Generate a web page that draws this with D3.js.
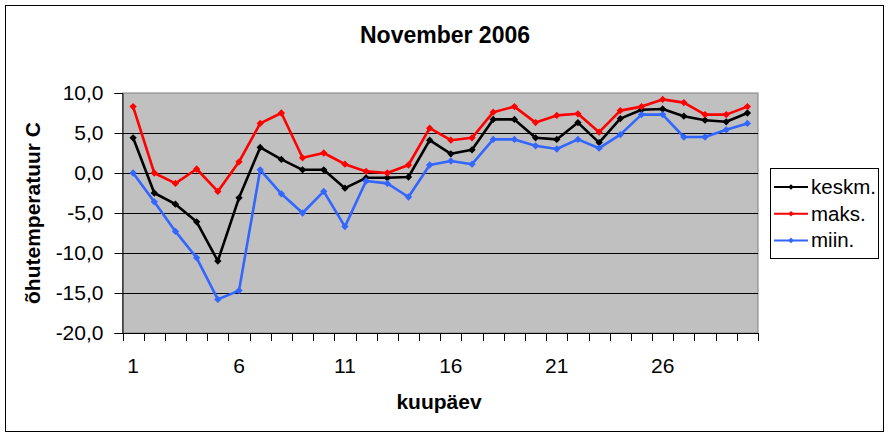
<!DOCTYPE html>
<html>
<head>
<meta charset="utf-8">
<script src="https://cdn.jsdelivr.net/npm/d3@7"></script>
<style>
	body { margin: 0; background: #fff; }
	svg { display: block; font-family: "Liberation Sans", Arial, sans-serif; }
</style>
</head>
<body>
<div id="chart"></div>
<script>
// päevad 1..30
const days = [ 1, 2, 3, 4, 5, 6, 7, 8, 9, 10, 11, 12, 13, 14, 15, 16, 17, 18, 19, 20, 21, 22, 23, 24, 25, 26, 27, 28, 29, 30 ];
const keskm = [ 4.4, -2.5, -3.9, -6.1, -11.0, -3.1, 3.2, 1.7, 0.4, 0.4, -1.9, -0.6, -0.6, -0.5, 4.1, 2.4, 2.9, 6.7, 6.7, 4.4, 4.2, 6.3, 3.8, 6.8, 7.9, 8.0, 7.1, 6.6, 6.4, 7.5 ];
const maks = [ 8.3, 0.0, -1.3, 0.5, -2.3, 1.4, 6.2, 7.5, 1.9, 2.5, 1.1, 0.2, 0.0, 1.0, 5.6, 4.1, 4.4, 7.6, 8.3, 6.3, 7.2, 7.4, 5.1, 7.8, 8.3, 9.2, 8.8, 7.3, 7.3, 8.3 ];
const miin = [ 0.0, -3.6, -7.3, -10.6, -15.8, -14.7, 0.4, -2.6, -5.0, -2.3, -6.7, -1.0, -1.3, -3.0, 1.0, 1.5, 1.1, 4.2, 4.2, 3.4, 3.0, 4.2, 3.1, 4.8, 7.3, 7.3, 4.5, 4.5, 5.4, 6.2 ];
const yTicks = [ -20, -15, -10, -5, 0, 5, 10 ];
const xLabels = [ 1, 6, 11, 16, 21, 26 ];

const series = [
	{ name: 'keskm.', values: keskm, color: '#000000' },
	{ name: 'maks.', values: maks, color: '#ff0000' },
	{ name: 'miin.', values: miin, color: '#3366ff' }
];

const width = 890, height = 438,
	plot = { left: 122.5, right: 758, top: 93, bottom: 333 };

const svg = d3.select( '#chart' ).append( 'svg' )
	.attr( 'width', width )
	.attr( 'height', height );

const x = d3.scaleBand().domain( days ).range( [ plot.left, plot.right ] ),
	y = d3.scaleLinear().domain( [ -20, 10 ] ).range( [ plot.bottom, plot.top ] ),
	cx = d => x( d ) + x.bandwidth() / 2,
	fmt = d => d.toFixed( 1 ).replace( '.', ',' );

// välimine raam
svg.append( 'rect' )
	.attr( 'x', 5.5 ).attr( 'y', 5.5 )
	.attr( 'width', 878 ).attr( 'height', 426 )
	.attr( 'fill', '#fff' ).attr( 'stroke', '#000' );

// joonise ala
svg.append( 'rect' )
	.attr( 'x', plot.left ).attr( 'y', plot.top )
	.attr( 'width', plot.right - plot.left ).attr( 'height', plot.bottom - plot.top )
	.attr( 'fill', '#c0c0c0' ).attr( 'stroke', '#808080' );

// ruudustik
svg.append( 'g' ).selectAll( 'line' ).data( yTicks.filter( d => d > -20 && d < 10 ) ).enter()
	.append( 'line' )
	.attr( 'x1', plot.left ).attr( 'x2', plot.right )
	.attr( 'y1', d => Math.round( y( d ) ) + 0.5 ).attr( 'y2', d => Math.round( y( d ) ) + 0.5 )
	.attr( 'stroke', '#000' );

// y telg
const yAxis = svg.append( 'g' )
	.attr( 'transform', `translate(${ plot.left },0)` )
	.call( d3.axisLeft( y ).tickValues( yTicks ).tickSize( 8 ).tickPadding( 11 ).tickFormat( fmt ) );
yAxis.select( '.domain' ).attr( 'stroke', '#000' );
yAxis.selectAll( 'text' ).attr( 'font-size', '21px' ).attr( 'fill', '#000' ).attr( 'font-family', '"Liberation Sans", Arial, sans-serif' );

// x telg
svg.append( 'line' )
	.attr( 'x1', plot.left ).attr( 'x2', plot.right )
	.attr( 'y1', plot.bottom + 0.5 ).attr( 'y2', plot.bottom + 0.5 )
	.attr( 'stroke', '#000' );
svg.append( 'g' ).selectAll( 'line' ).data( days.map( d => x( d ) ).concat( [ plot.right ] ) ).enter()
	.append( 'line' )
	.attr( 'x1', d => Math.round( d ) + 0.5 ).attr( 'x2', d => Math.round( d ) + 0.5 )
	.attr( 'y1', plot.bottom ).attr( 'y2', plot.bottom + 8 )
	.attr( 'stroke', '#000' );
svg.append( 'g' ).selectAll( 'text' ).data( xLabels ).enter()
	.append( 'text' )
	.attr( 'x', d => cx( d ) ).attr( 'y', 373 )
	.attr( 'text-anchor', 'middle' )
	.attr( 'font-size', '21px' )
	.text( d => d );

// jooned ja markerid
const line = d3.line().x( ( v, i ) => cx( days[ i ] ) ).y( v => y( v ) );
const diamond = d3.symbol().type( d3.symbolDiamond2 ).size( 34 );

series.forEach( s => {
	svg.append( 'path' )
		.attr( 'd', line( s.values ) )
		.attr( 'fill', 'none' )
		.attr( 'stroke', s.color )
		.attr( 'stroke-width', 2.6 )
		.attr( 'stroke-linejoin', 'round' );
	svg.append( 'g' ).selectAll( 'path' ).data( s.values ).enter()
		.append( 'path' )
		.attr( 'd', diamond )
		.attr( 'transform', ( v, i ) => `translate(${ cx( days[ i ] ) },${ y( v ) })` )
		.attr( 'fill', s.color );
} );

// pealkirjad
svg.append( 'text' )
	.attr( 'x', 445 ).attr( 'y', 43 )
	.attr( 'text-anchor', 'middle' )
	.attr( 'font-size', '23px' ).attr( 'font-weight', 'bold' )
	.text( 'November 2006' );
svg.append( 'text' )
	.attr( 'x', 439 ).attr( 'y', 409 )
	.attr( 'text-anchor', 'middle' )
	.attr( 'font-size', '21px' ).attr( 'font-weight', 'bold' )
	.text( 'kuupäev' );
svg.append( 'text' )
	.attr( 'transform', 'translate(40,213) rotate(-90)' )
	.attr( 'text-anchor', 'middle' )
	.attr( 'font-size', '21px' ).attr( 'font-weight', 'bold' )
	.text( 'õhutemperatuur C' );

// legend
const legend = svg.append( 'g' );
legend.append( 'rect' )
	.attr( 'x', 770.5 ).attr( 'y', 168.5 )
	.attr( 'width', 108 ).attr( 'height', 90 )
	.attr( 'fill', '#fff' ).attr( 'stroke', '#000' );
const item = legend.selectAll( 'g' ).data( series ).enter()
	.append( 'g' )
	.attr( 'transform', ( d, i ) => `translate(0,${ 187 + i * 26.7 })` );
item.append( 'line' )
	.attr( 'x1', 774 ).attr( 'x2', 808 )
	.attr( 'stroke', d => d.color ).attr( 'stroke-width', 2 );
item.append( 'path' )
	.attr( 'd', d3.symbol().type( d3.symbolDiamond2 ).size( 20 ) )
	.attr( 'transform', 'translate(791,0)' )
	.attr( 'fill', d => d.color );
item.append( 'text' )
	.attr( 'x', 811 ).attr( 'y', 7 )
	.attr( 'font-size', '20.5px' )
	.text( d => d.name );
</script>
</body>
</html>
